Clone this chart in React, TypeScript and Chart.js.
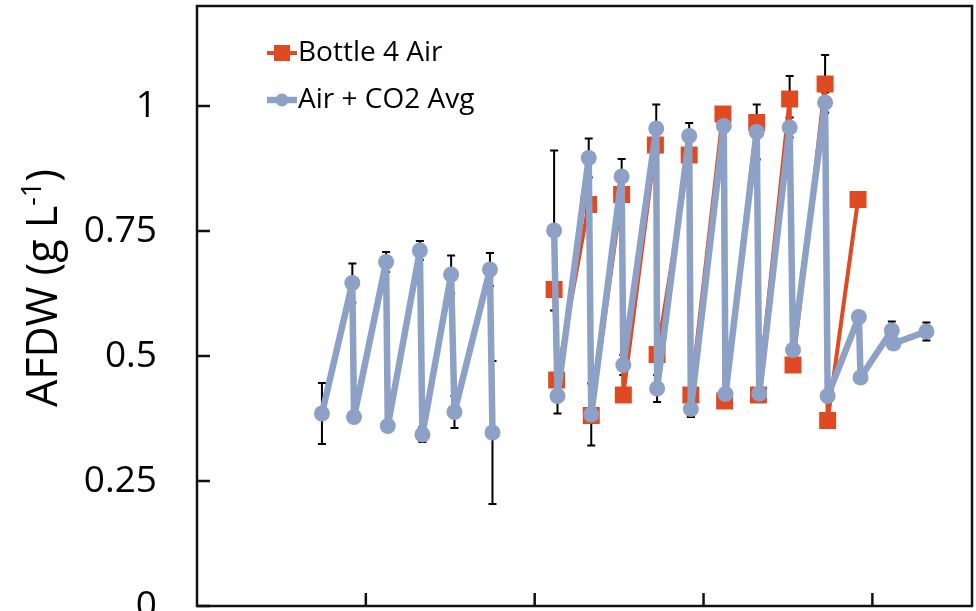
import React, { useEffect, useRef } from "react";
import { Chart, registerables } from "chart.js";

Chart.register(...registerables);

// ---- data ----
const xTickValues = [10, 20, 30, 40];
const yTickValues = [0, 0.25, 0.5, 0.75, 1];
const yTickLabels = ["0", "0.25", "0.5", "0.75", "1"];

const seriesNames = ["Bottle 4 Air", "Air + CO2 Avg"];
const yAxisTitle = "AFDW (g L";
const yAxisTitleSup = "-1";

const bottleX = [21.15, 21.3, 23.2, 23.35, 25.15, 25.25, 27.15, 27.25, 29.15, 29.25, 31.15, 31.25, 33.15, 33.25, 35.1, 35.3, 37.2, 37.35, 39.15];
const bottleY = [0.633, 0.452, 0.803, 0.381, 0.823, 0.422, 0.922, 0.503, 0.902, 0.422, 0.984, 0.41, 0.967, 0.422, 1.014, 0.482, 1.044, 0.371, 0.813];
const bottleErr = [0, 0, 0, 0, 0, 0, 0, 0, 0, 0, 0, 0, 0, 0, 0.046, 0, 0.058, 0, 0];

const avgRun1X = [7.4, 9.2, 9.3, 11.2, 11.3, 13.2, 13.35, 15.05, 15.25, 17.35, 17.5];
const avgRun1Y = [0.385, 0.646, 0.378, 0.688, 0.36, 0.711, 0.343, 0.663, 0.388, 0.673, 0.347];
const avgRun1Err = [0.061, 0.039, 0.01, 0.02, 0.01, 0.019, 0.015, 0.038, 0.032, 0.033, 0.143];

const avgRun2X = [21.15, 21.35, 23.2, 23.35, 25.15, 25.25, 27.2, 27.25, 29.15, 29.25, 31.2, 31.3, 33.15, 33.3, 35.1, 35.3, 37.2, 37.35, 39.2, 39.3, 41.15, 41.25, 43.2];
const avgRun2Y = [0.751, 0.42, 0.896, 0.383, 0.859, 0.482, 0.955, 0.435, 0.94, 0.394, 0.96, 0.424, 0.948, 0.425, 0.957, 0.512, 1.007, 0.42, 0.578, 0.457, 0.551, 0.525, 0.549];
const avgRun2Err = [0.16, 0.035, 0.039, 0.062, 0.035, 0.02, 0.048, 0.027, 0.026, 0.016, 0.01, 0.01, 0.055, 0.01, 0.02, 0.01, 0.02, 0.01, 0, 0, 0.018, 0.01, 0.018];

const X_MIN = 0;
const X_MAX = 45.9;
const Y_MIN = 0;
const Y_MAX = 1.2;

// ---- styles ----
const RED = "#DF4A22";
const BLUE = "#8DA0C6";
const FONT = "'Open Sans', 'DejaVu Sans', sans-serif";
const CANVAS_W = 976;
const CANVAS_H = 680;
const AREA_TOP = 6;
const AREA_BOTTOM = 606;
const AREA_LEFT = 197;
const AREA_RIGHT = 972;

const pts = (xs: number[], ys: number[]) => xs.map((x, i) => ({ x, y: ys[i] }));

const overlay = {
  id: "overlay",
  beforeDatasetsDraw(chart: any) {
    const ctx = chart.ctx;
    const xs = chart.scales.x;
    const ys = chart.scales.y;
    ctx.save();
    ctx.strokeStyle = "#000";
    ctx.lineWidth = 2;
    chart.data.datasets.forEach((ds: any) => {
      const errs: number[] = ds.errors || [];
      ds.data.forEach((p: any, i: number) => {
        const e = errs[i];
        if (p.y == null || !e) return;
        const px = xs.getPixelForValue(p.x);
        const yTop = ys.getPixelForValue(p.y + e);
        const yBot = ys.getPixelForValue(p.y - e);
        ctx.beginPath();
        ctx.moveTo(px, yTop);
        ctx.lineTo(px, yBot);
        ctx.moveTo(px - 4, yTop);
        ctx.lineTo(px + 4, yTop);
        ctx.moveTo(px - 4, yBot);
        ctx.lineTo(px + 4, yBot);
        ctx.stroke();
      });
    });
    ctx.restore();
  },
  afterDraw(chart: any) {
    const ctx = chart.ctx;
    const a = chart.chartArea;
    const xs = chart.scales.x;
    const ys = chart.scales.y;
    ctx.save();
    // frame
    ctx.strokeStyle = "#111";
    ctx.lineWidth = 2.5;
    ctx.strokeRect(a.left, a.top, a.right - a.left, a.bottom - a.top);
    // inward ticks
    ctx.beginPath();
    yTickValues.forEach((v) => {
      const y = ys.getPixelForValue(v);
      ctx.moveTo(a.left, y);
      ctx.lineTo(a.left + 13, y);
    });
    xTickValues.forEach((v) => {
      const x = xs.getPixelForValue(v);
      ctx.moveTo(x, a.bottom);
      ctx.lineTo(x, a.bottom - 13);
    });
    ctx.stroke();

    // legend
    const ds = chart.data.datasets;
    const legendRows = [
      { d: ds[0], y: 53 },
      { d: ds[1], y: 100 },
    ];
    legendRows.forEach((row) => {
      const d = row.d;
      const cx = 282;
      ctx.strokeStyle = d.borderColor;
      ctx.lineWidth = d.borderWidth;
      ctx.lineCap = "butt";
      ctx.beginPath();
      ctx.moveTo(267, row.y);
      ctx.lineTo(297, row.y);
      ctx.stroke();
      ctx.fillStyle = d.pointBackgroundColor;
      if (d.pointStyle === "rect") {
        ctx.fillRect(cx - 8, row.y - 8, 16, 16);
      } else {
        ctx.beginPath();
        ctx.arc(cx, row.y, 6.5, 0, Math.PI * 2);
        ctx.fill();
      }
      ctx.fillStyle = "#000";
      ctx.font = `28px ${FONT}`;
      ctx.textAlign = "left";
      ctx.textBaseline = "middle";
      ctx.fillText(d.label, 298, row.y);
    });

    // y axis title (rotated, with superscript)
    ctx.translate(42, 288);
    ctx.rotate(-Math.PI / 2);
    ctx.fillStyle = "#000";
    ctx.textBaseline = "alphabetic";
    ctx.textAlign = "left";
    const mainFont = `43px ${FONT}`;
    const supFont = `27px ${FONT}`;
    ctx.font = mainFont;
    const w1 = ctx.measureText(yAxisTitle).width;
    const w3 = ctx.measureText(")").width;
    ctx.font = supFont;
    const w2 = ctx.measureText(yAxisTitleSup).width;
    const total = w1 + w2 + w3;
    let x0 = -total / 2;
    const base = 15;
    ctx.font = mainFont;
    ctx.fillText(yAxisTitle, x0, base);
    x0 += w1;
    ctx.font = supFont;
    ctx.fillText(yAxisTitleSup, x0, base - 16);
    x0 += w2;
    ctx.font = mainFont;
    ctx.fillText(")", x0, base);
    ctx.restore();
  },
};

export default function App() {
  const ref = useRef<HTMLCanvasElement>(null);
  useEffect(() => {
    let chart: Chart | null = null;
    let cancelled = false;
    const build = () => {
      if (cancelled || !ref.current) return;
      const avgData: any[] = [
        ...pts(avgRun1X, avgRun1Y),
        { x: 19, y: null },
        ...pts(avgRun2X, avgRun2Y),
      ];
      const avgErrs = [...avgRun1Err, 0, ...avgRun2Err];
      chart = new Chart(ref.current, {
        type: "line",
        data: {
          datasets: [
            {
              label: seriesNames[0],
              data: pts(bottleX, bottleY),
              errors: bottleErr,
              borderColor: RED,
              backgroundColor: RED,
              pointBackgroundColor: RED,
              pointBorderColor: RED,
              borderWidth: 4,
              borderJoinStyle: "round",
              borderCapStyle: "round",
              pointStyle: "rect",
              pointRadius: 12,
              pointBorderWidth: 0,
              order: 2,
            } as any,
            {
              label: seriesNames[1],
              data: avgData,
              errors: avgErrs,
              borderColor: BLUE,
              backgroundColor: BLUE,
              pointBackgroundColor: BLUE,
              pointBorderColor: BLUE,
              borderWidth: 6.5,
              borderJoinStyle: "round",
              borderCapStyle: "round",
              pointStyle: "circle",
              pointRadius: 8,
              pointBorderWidth: 0,
              spanGaps: false,
              order: 1,
            } as any,
          ],
        },
        options: {
          responsive: false,
          animation: false,
          devicePixelRatio: 1,
          layout: {
            autoPadding: false,
            padding: { left: 0, top: AREA_TOP, right: CANVAS_W - AREA_RIGHT, bottom: 0 },
          },
          plugins: { legend: { display: false }, tooltip: { enabled: false } },
          elements: { line: { tension: 0 } },
          scales: {
            x: {
              type: "linear",
              min: X_MIN,
              max: X_MAX,
              grid: { display: false, drawTicks: false },
              border: { display: false },
              ticks: { display: false },
              afterBuildTicks: (s: any) => {
                s.ticks = xTickValues.map((v) => ({ value: v }));
              },
              afterFit: (s: any) => {
                s.height = CANVAS_H - AREA_BOTTOM;
                s.paddingLeft = 0;
                s.paddingRight = 0;
              },
            },
            y: {
              type: "linear",
              min: Y_MIN,
              max: Y_MAX,
              grid: { display: false, drawTicks: false },
              border: { display: false },
              afterBuildTicks: (s: any) => {
                s.ticks = yTickValues.map((v) => ({ value: v }));
              },
              ticks: {
                color: "#000",
                padding: 40,
                font: { family: FONT, size: 37 },
                callback: (v: any) => {
                  const i = yTickValues.indexOf(Number(v));
                  return i >= 0 ? yTickLabels[i] : "";
                },
              },
              afterFit: (s: any) => {
                s.width = AREA_LEFT;
                s.paddingTop = 0;
                s.paddingBottom = 0;
              },
            },
          },
        } as any,
        plugins: [overlay],
      });
    };
    const fonts: any = (document as any).fonts;
    if (fonts && fonts.load) {
      Promise.all([fonts.load(`36px 'Open Sans'`), fonts.load(`28px 'Open Sans'`)]).then(build, build);
    } else {
      build();
    }
    return () => {
      cancelled = true;
      if (chart) chart.destroy();
    };
  }, []);
  return (
    <div style={{ position: "fixed", left: 0, top: 0, width: CANVAS_W, height: CANVAS_H, background: "#fff" }}>
      <canvas ref={ref} width={CANVAS_W} height={CANVAS_H} style={{ display: "block" }} />
    </div>
  );
}
